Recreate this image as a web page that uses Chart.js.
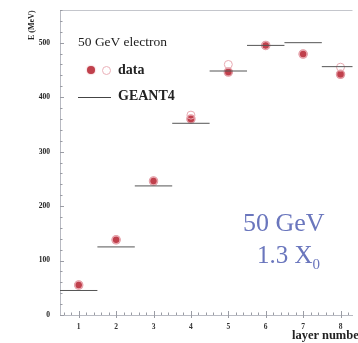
<!DOCTYPE html>
<html>
<head>
<meta charset="utf-8">
<script src="https://cdn.jsdelivr.net/npm/chart.js@4"></script>
<style>
  html, body { margin: 0; padding: 0; background: #fff; }
  #wrap { position: relative; width: 358px; height: 343px; overflow: hidden; }
  canvas { position: absolute; left: 0; top: 0; }
  .txt { position: absolute; font-family: "Liberation Serif", serif; color: #222; white-space: nowrap; }
</style>
</head>
<body>
<div id="wrap">
  <canvas id="chart" width="358" height="343"></canvas>
  <div class="txt" style="left:27px; top:40px; font-size:8px; font-weight:bold; transform:rotate(-90deg); transform-origin:left top;">E (MeV)</div>
  <div class="txt" style="left:78px; top:34px; font-size:13.5px;">50 GeV electron</div>
  <div style="position:absolute; left:87px; top:66px; width:8px; height:8px; border-radius:50%; background:#c0404c; box-shadow:0 0 2px #e59aa2;"></div>
  <div style="position:absolute; left:102px; top:66px; width:7px; height:7px; border-radius:50%; border:1px solid #eab0b8;"></div>
  <div class="txt" style="left:118px; top:62px; font-size:14px; font-weight:bold;">data</div>
  <div style="position:absolute; left:78px; top:97px; width:33px; height:1px; background:#444;"></div>
  <div class="txt" style="left:118px; top:88px; font-size:14px; font-weight:bold;">GEANT4</div>
  <div class="txt" style="left:243px; top:208px; font-size:26px; color:#6a76bd;">50 GeV</div>
  <div class="txt" style="left:257px; top:241px; font-size:25px; color:#6a76bd;">1.3 X<sub style="font-size:15px; vertical-align:-6px;">0</sub></div>
  <div class="txt" style="left:292px; top:328px; font-size:12.5px; font-weight:bold;">layer number</div>
</div>
<script>
// valores
const layers = [1, 2, 3, 4, 5, 6, 7, 8];
const dataE = [55, 138, 246, 360, 446, 495, 479, 442];
const openE = [55, 138, 246, 367, 460, 495, 479, 455];
const geantE = [45, 125, 237, 352, 448, 495, 500, 456];
const yTicks = [0, 100, 200, 300, 400, 500];

// segmentos horizontales de GEANT4 (ancho de una capa)
const geantSeg = [];
layers.forEach((l, i) => {
  geantSeg.push({ x: l - 0.5, y: geantE[i] });
  geantSeg.push({ x: l + 0.5, y: geantE[i] });
  geantSeg.push({ x: l + 0.5, y: null });
});

// marco superior y marcas de escala hacia dentro
const framePlugin = {
  id: 'frame',
  afterDraw(chart) {
    const { ctx, chartArea: a, scales: { x, y } } = chart;
    ctx.save();
    ctx.strokeStyle = '#c4c6cc';
    ctx.lineWidth = 1;
    ctx.beginPath();
    ctx.moveTo(a.left, a.top + 0.5);
    ctx.lineTo(a.right, a.top + 0.5);
    ctx.stroke();
    ctx.strokeStyle = '#9a9ca4';
    ctx.beginPath();
    for (let v = 0; v <= 560; v += 20) {
      const py = Math.round(y.getPixelForValue(v)) + 0.5;
      const len = v % 100 === 0 ? 4 : 2.5;
      ctx.moveTo(a.left, py);
      ctx.lineTo(a.left + len, py);
    }
    for (let v = 0.6; v <= 8.4; v += 0.2) {
      const r = Math.round(v * 10) / 10;
      const px = Math.round(x.getPixelForValue(r)) + 0.5;
      const major = Math.abs(r - Math.round(r)) < 0.01;
      ctx.moveTo(px, a.bottom + (major ? 3 : 0));
      ctx.lineTo(px, a.bottom - (major ? 4 : 2.5));
    }
    ctx.stroke();
    ctx.restore();
  }
};

new Chart(document.getElementById('chart'), {
  type: 'scatter',
  data: {
    datasets: [
      {
        label: 'GEANT4',
        data: geantSeg,
        showLine: true,
        spanGaps: false,
        borderColor: '#555',
        borderWidth: 1,
        pointRadius: 0
      },
      {
        label: 'data (open)',
        data: layers.map((l, i) => ({ x: l, y: openE[i] })),
        pointRadius: 4,
        pointBorderWidth: 1,
        pointBorderColor: '#e8aab2',
        pointBackgroundColor: 'rgba(0,0,0,0)'
      },
      {
        label: 'data',
        data: layers.map((l, i) => ({ x: l, y: dataE[i] })),
        pointRadius: 4,
        pointBorderWidth: 1.5,
        pointBorderColor: '#e39aa3',
        pointBackgroundColor: '#c0404c'
      }
    ]
  },
  options: {
    responsive: false,
    animation: false,
    layout: { padding: { top: 10, right: 0, left: 0, bottom: 0 } },
    plugins: { legend: { display: false }, tooltip: { enabled: false } },
    scales: {
      x: {
        type: 'linear',
        min: 0.5,
        max: 8.32,
        afterFit: s => { s.height = 28; },
        afterBuildTicks: s => { s.ticks = layers.map(v => ({ value: v })); },
        border: { color: '#b8bac2' },
        grid: { display: false },
        ticks: {
          padding: 0,
          color: '#333',
          font: { family: 'Liberation Serif', size: 7.5, weight: 'bold' },
          maxRotation: 0
        }
      },
      y: {
        min: 0,
        max: 560,
        afterFit: s => { s.width = 60; },
        afterBuildTicks: s => { s.ticks = yTicks.map(v => ({ value: v })); },
        border: { color: '#b8bac2' },
        grid: { display: false },
        ticks: {
          padding: 2,
          color: '#222',
          font: { family: 'Liberation Serif', size: 7.5, weight: 'bold' }
        }
      }
    }
  },
  plugins: [framePlugin]
});
</script>
</body>
</html>
